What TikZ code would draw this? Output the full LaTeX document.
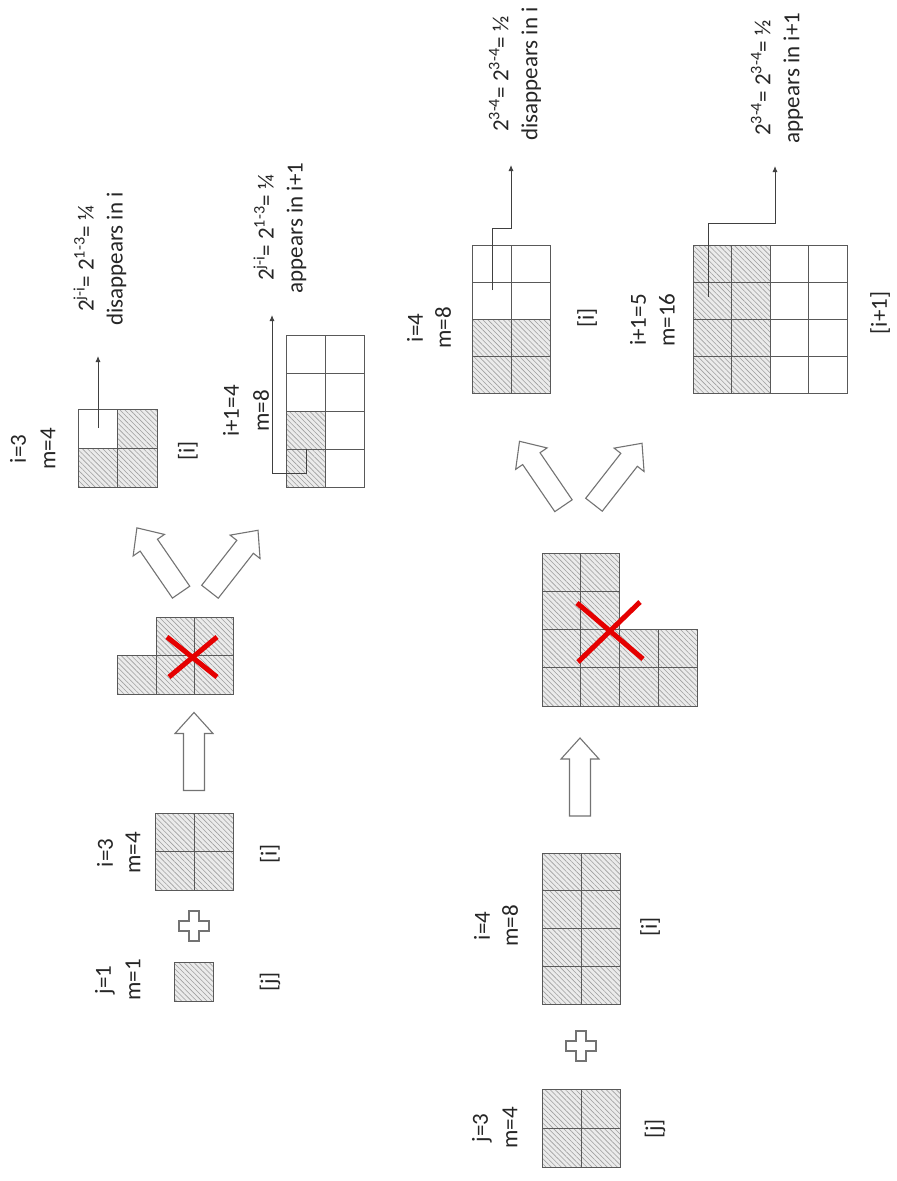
\documentclass[tikz,border=0pt]{standalone}
\usepackage{fontspec}
\setmainfont{Carlito}
\usetikzlibrary{patterns.meta,arrows.meta}
\tikzset{
  hcell/.style={preaction={fill=gray!16}, pattern={Lines[angle=-45,distance=3.6pt,line width=0.6pt]}, pattern color=gray!75, draw=black!65, line width=0.9pt},
  wcell/.style={fill=white, draw=black!65, line width=0.9pt},
  lbl/.style={rotate=90, font=\fontsize{23}{29}\selectfont, text=black!85, inner sep=0pt},
  note/.style={lbl, align=center},
  lead/.style={draw=black!75, line width=0.9pt, -{Latex[length=6pt,width=5pt]}},
  barrow/.style={draw=black!55, line width=1.1pt, fill=white, line join=miter},
  xmark/.style={draw=red!90!black, line width=5pt},
  blockarrow/.pic={\path[barrow] (-39,-10.5) -- (18,-10.5) -- (18,-19) -- (39,0) -- (18,19) -- (18,10.5) -- (-39,10.5) -- cycle;},
  plussign/.pic={\path[barrow] (-5,-15) -- (5,-15) -- (5,-5) -- (15,-5) -- (15,5) -- (5,5) -- (5,15) -- (-5,15) -- (-5,5) -- (-15,5) -- (-15,-5) -- (-5,-5) -- cycle;}
}
\begin{document}
\begin{tikzpicture}[x=1pt,y=-1pt]
\useasboundingbox[fill=white] (0,0) rectangle (897,1181);

% ================= Upper example (j=1, i=3) =================
% j=1 square
\draw[hcell] (174,962) rectangle ++(39,39);
\node[lbl] (aj1) at (105,980) {j=1};
\node[lbl] (amj) at (133,980) {m=1};
\node[lbl] (abj) at (270,982) {[j]};
\pic at (194,926) {plussign};
% i=3 square
\foreach \c in {0,1} \foreach \r in {0,1} {\draw[hcell] ({155+39*\c},{813+38.5*\r}) rectangle ++(39,38.5);}
\node[lbl] (ai3) at (105,853) {i=3};
\node[lbl] (ami) at (133,853) {m=4};
\node[lbl] (abi) at (270,854) {[i]};
% up arrow
\pic[rotate=90] at (194,751.5) {blockarrow};
% L shape
\foreach \c in {0,1} \foreach \r in {0,1} {\draw[hcell] ({156+38.5*\c},{617+38.5*\r}) rectangle ++(38.5,38.5);}
\draw[hcell] (117.5,655.5) rectangle ++(38.5,38.5);
\draw[xmark] (167,637) -- (217,677);
\draw[xmark] (217,637) -- (169,677);
% diverging arrows
\pic[rotate=124.5] at (159,560) {blockarrow};
\pic[rotate=52] at (234,561) {blockarrow};
% result i (disappears)
\foreach \c/\r/\s in {0/0/wcell,1/0/hcell,0/1/hcell,1/1/hcell} {\draw[\s] ({78+39.5*\c},{409+39*\r}) rectangle ++(39.5,39);}
\node[lbl] (ti3) at (18,449) {i=3};
\node[lbl] (tm4) at (48,449) {m=4};
\node[lbl] (tbi) at (188,451) {[i]};
\coordinate (d1s) at (98,428);
\coordinate (d1e) at (98,356);
\draw[lead] (d1s) -- (d1e);
\node[note] (dis1) at (100,259) {2\textsuperscript{j-i}= 2\textsuperscript{1-3}= ¼\\disappears in i};
% result i+1 (appears)
\foreach \c/\r/\s in {0/0/wcell,1/0/wcell,0/1/wcell,1/1/wcell,0/2/hcell,1/2/wcell,0/3/hcell,1/3/wcell} {\draw[\s] ({286+39*\c},{335+38*\r}) rectangle ++(39,38);}
\node[lbl] (ti4) at (231,411) {i+1=4};
\node[lbl] (tm8) at (261,411) {m=8};
\coordinate (p1s) at (306,449);
\coordinate (p1a) at (306,473);
\coordinate (p1b) at (272,473);
\coordinate (p1e) at (272,315);
\draw[lead] (p1s) -- (p1a) -- (p1b) -- (p1e);
\node[note] (app1) at (280,228) {2\textsuperscript{j-i}= 2\textsuperscript{1-3}= ¼\\appears in i+1};

% ================= Lower example (j=3, i=4) =================
% j=3 square
\foreach \c in {0,1} \foreach \r in {0,1} {\draw[hcell] ({542+39*\c},{1089+39*\r}) rectangle ++(39,39);}
\node[lbl] (bj3) at (482,1128) {j=3};
\node[lbl] (bmj) at (510,1128) {m=4};
\node[lbl] (bbj) at (655,1129) {[j]};
\pic at (581,1046) {plussign};
% i=4 rect
\foreach \c in {0,1} \foreach \r in {0,1,2,3} {\draw[hcell] ({542+39*\c},{853+37.75*\r}) rectangle ++(39,37.75);}
\node[lbl] (bi4) at (482,926) {i=4};
\node[lbl] (bmi) at (510,926) {m=8};
\node[lbl] (bbi) at (650,927) {[i]};
% up arrow
\pic[rotate=90] at (580,777) {blockarrow};
% L shape
\foreach \c in {0,1} \foreach \r in {0,1,2,3} {\draw[hcell] ({542+38.75*\c},{553+38.25*\r}) rectangle ++(38.75,38.25);}
\foreach \c in {2,3} \foreach \r in {2,3} {\draw[hcell] ({542+38.75*\c},{553+38.25*\r}) rectangle ++(38.75,38.25);}
\draw[xmark] (577,603) -- (643,659);
\draw[xmark] (640,602) -- (578,662);
% diverging arrows
\pic[rotate=124.3] at (541.5,473.5) {blockarrow};
\pic[rotate=52] at (618,474) {blockarrow};
% result i (disappears)
\foreach \c/\r/\s in {0/0/wcell,1/0/wcell,0/1/wcell,1/1/wcell,0/2/hcell,1/2/hcell,0/3/hcell,1/3/hcell} {\draw[\s] ({472+39*\c},{245+37*\r}) rectangle ++(39,37);}
\node[lbl] (ui4) at (415,328) {i=4};
\node[lbl] (um8) at (443,328) {m=8};
\node[lbl] (ubi) at (587,318) {[i]};
\coordinate (d2s) at (492,290);
\coordinate (d2a) at (492,228);
\coordinate (d2b) at (511,228);
\coordinate (d2e) at (511,165);
\draw[lead] (d2s) -- (d2a) -- (d2b) -- (d2e);
\node[note] (dis2) at (515,74) {2\textsuperscript{3-4}= 2\textsuperscript{3-4}= ½\\disappears in i};
% result i+1 (appears)
\foreach \r in {0,1,2,3} {
  \foreach \c in {0,1} {\draw[hcell] ({693+38.5*\c},{245+37*\r}) rectangle ++(38.5,37);}
  \foreach \c in {2,3} {\draw[wcell] ({693+38.5*\c},{245+37*\r}) rectangle ++(38.5,37);}
}
\node[lbl] (ui5) at (638,320) {i+1=5};
\node[lbl] (um16) at (667,320) {m=16};
\node[lbl] (ubi1) at (880,313) {[i+1]};
\coordinate (p2s) at (708,297);
\coordinate (p2a) at (708,223);
\coordinate (p2b) at (775,223);
\coordinate (p2e) at (775,166);
\draw[lead] (p2s) -- (p2a) -- (p2b) -- (p2e);
\node[note] (app2) at (777,78) {2\textsuperscript{3-4}= 2\textsuperscript{3-4}= ½\\appears in i+1};
\end{tikzpicture}
\end{document}
